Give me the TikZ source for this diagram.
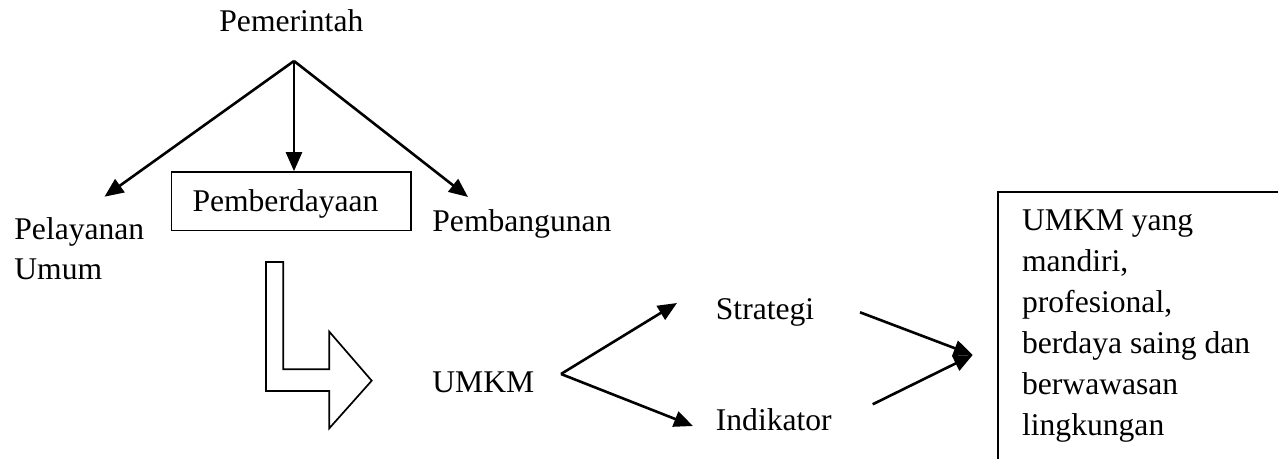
\documentclass[tikz,border=0pt]{standalone}
\usepackage{fontspec}
\setmainfont{Liberation Serif}
\usetikzlibrary{arrows.meta}
\begin{document}
\begin{tikzpicture}[x=0.5pt,y=-0.5pt,
  every node/.style={inner sep=0pt, font=\fontsize{15.8}{20.4}\selectfont},
  lbl/.style={anchor=base west, align=left},
  conn/.style={line width=1.3pt, -{Triangle[length=9.5pt,width=8pt]}},
  hollow/.style={line width=0.85pt, fill=white},
  frame/.style={line width=0.8pt}]
\useasboundingbox (0,0) rectangle (1278,459);
% top
\node[lbl] (pem) at (219,31.7) {Pemerintah};
\coordinate (apex) at (294,61);
\node[lbl] (pel) at (14,280) {Pelayanan\\Umum};
\node[draw, frame, anchor=base west, align=left, text width=98.6pt,
      inner xsep=10.5pt, inner ysep=0pt, text height=19.85pt, text depth=9.5pt]
      (pbd) at (170.7,211.7) {Pemberdayaan};
\node[lbl] (pbg) at (432,232) {Pembangunan};
\coordinate (tipL) at (104.5,196.7);
\coordinate (tipR) at (468,197);
\draw[conn] (apex) -- (tipL);
\draw[conn] (apex) -- (apex |- pbd.north);
\draw[conn] (apex) -- (tipR);
% hollow bent arrow
\draw[hollow] (266,262) -- (283.3,262) -- (283.3,369.3) -- (329.3,369.3)
  -- (329.3,331.7) -- (371.7,380.7) -- (329.3,428.3) -- (329.3,391)
  -- (266,391) -- cycle;
% UMKM branch
\node[lbl] (umkm) at (432,393) {UMKM};
\coordinate (fork) at (561,374);
\node[lbl] (str) at (715.5,320) {Strategi};
\node[lbl] (ind) at (715.5,430) {Indikator};
\coordinate (tipS) at (677,303);
\coordinate (tipI) at (693,426);
\draw[conn] (fork) -- (tipS);
\draw[conn] (fork) -- (tipI);
% converging
\coordinate (sS) at (860,312.3);
\coordinate (sI) at (872.7,404.3);
\coordinate (tipG) at (972.7,355);
\draw[conn] (sS) -- (tipG);
\draw[conn] (sI) -- (tipG);
% goal box
\node[lbl] (goal) at (1021.7,435) {UMKM yang\\mandiri,\\profesional,\\berdaya saing dan\\berwawasan\\lingkungan};
\begin{scope}
\clip (0,0) rectangle (1278,459);
\draw[frame] (1290,192.3) -- (998,192.3) -- (998,470);
\end{scope}
\end{tikzpicture}
\end{document}
